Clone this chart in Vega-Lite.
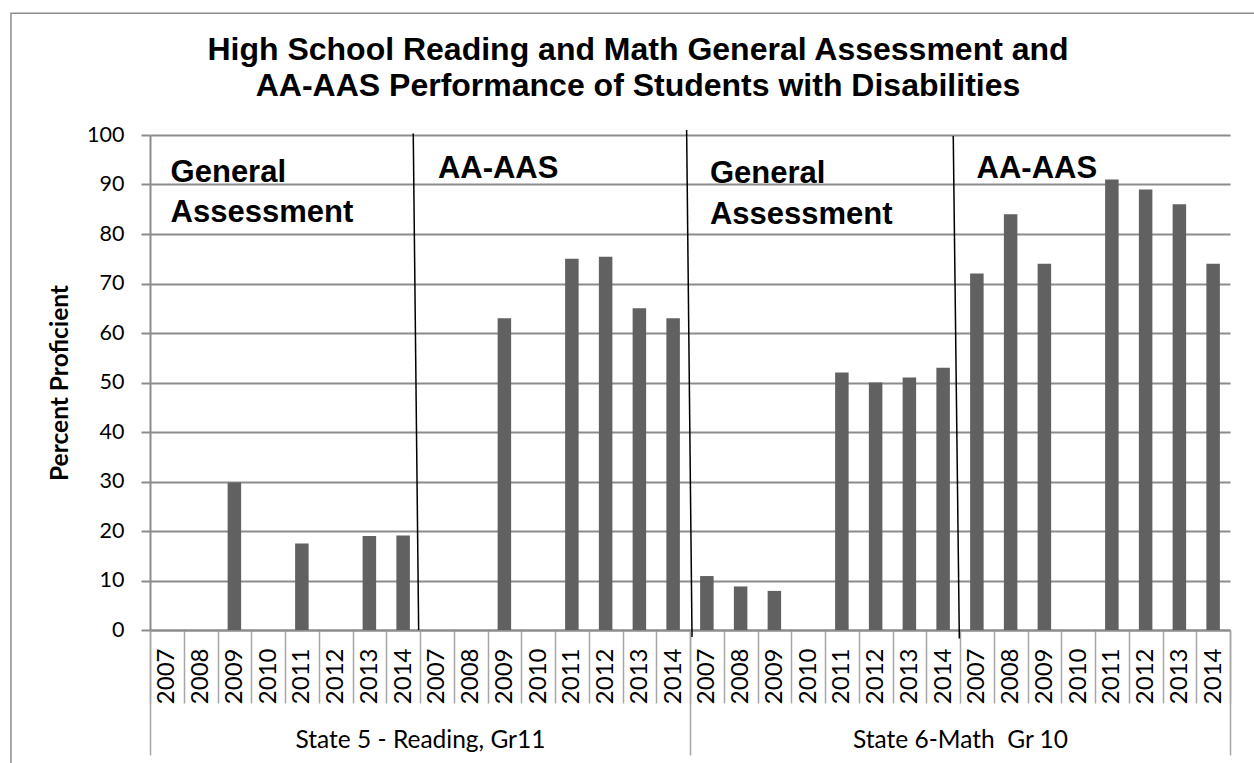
{
  "$schema": "https://vega.github.io/schema/vega-lite/v6.json",
  "width": 1080,
  "height": 495,
  "autosize": {"type": "none"},
  "padding": {"left": 150, "top": 135, "right": 24, "bottom": 133},
  "background": "white",
  "title": {
    "text": ["High School Reading and Math General Assessment and", "AA-AAS Performance of Students with Disabilities"],
    "font": "Liberation Sans",
    "fontSize": 32,
    "fontWeight": "bold",
    "color": "#000000",
    "anchor": "middle",
    "lineHeight": 36,
    "offset": -91,
    "dx": -52
  },
  "datasets": {
    "scores": [
      {"cat": "RG2007", "v": null}, {"cat": "RG2008", "v": null}, {"cat": "RG2009", "v": 29.8}, {"cat": "RG2010", "v": null},
      {"cat": "RG2011", "v": 17.5}, {"cat": "RG2012", "v": null}, {"cat": "RG2013", "v": 19.0}, {"cat": "RG2014", "v": 19.1},
      {"cat": "RA2007", "v": null}, {"cat": "RA2008", "v": null}, {"cat": "RA2009", "v": 63}, {"cat": "RA2010", "v": null},
      {"cat": "RA2011", "v": 75}, {"cat": "RA2012", "v": 75.4}, {"cat": "RA2013", "v": 65}, {"cat": "RA2014", "v": 63},
      {"cat": "MG2007", "v": 10.9}, {"cat": "MG2008", "v": 8.8}, {"cat": "MG2009", "v": 7.9}, {"cat": "MG2010", "v": null},
      {"cat": "MG2011", "v": 52}, {"cat": "MG2012", "v": 50}, {"cat": "MG2013", "v": 51}, {"cat": "MG2014", "v": 53},
      {"cat": "MA2007", "v": 72}, {"cat": "MA2008", "v": 84}, {"cat": "MA2009", "v": 74}, {"cat": "MA2010", "v": null},
      {"cat": "MA2011", "v": 91}, {"cat": "MA2012", "v": 89}, {"cat": "MA2013", "v": 86}, {"cat": "MA2014", "v": 74}
    ],
    "states": [
      {"state": "State 5 - Reading, Gr11"},
      {"state": "State 6-Math\u00a0 Gr 10"}
    ],
    "dividers": [
      {"line": 1, "xi": 7.8, "v": 100.3}, {"line": 1, "xi": 7.96, "v": 0},
      {"line": 2, "xi": 15.9, "v": 101}, {"line": 2, "xi": 16.06, "v": -1.4},
      {"line": 3, "xi": 23.8, "v": 99.8}, {"line": 3, "xi": 23.98, "v": -1.7}
    ],
    "notes": [
      {"label": "General", "xi": 0.61, "v": 90.6},
      {"label": "Assessment", "xi": 0.61, "v": 82.5},
      {"label": "AA-AAS", "xi": 8.53, "v": 91.4},
      {"label": "General", "xi": 16.59, "v": 90.4},
      {"label": "Assessment", "xi": 16.59, "v": 82.0},
      {"label": "AA-AAS", "xi": 24.49, "v": 91.4}
    ],
    "frame": [{"x1": -4.12, "x2": 34, "v": 124.6, "v2": -40}]
  },
  "layer": [
    {
      "data": {"name": "scores"},
      "mark": {"type": "bar", "color": "#616161", "width": {"band": 0.4}},
      "encoding": {
        "x": {
          "field": "cat", "type": "nominal", "sort": null,
          "scale": {
            "domain": ["RG2007","RG2008","RG2009","RG2010","RG2011","RG2012","RG2013","RG2014",
                       "RA2007","RA2008","RA2009","RA2010","RA2011","RA2012","RA2013","RA2014",
                       "MG2007","MG2008","MG2009","MG2010","MG2011","MG2012","MG2013","MG2014",
                       "MA2007","MA2008","MA2009","MA2010","MA2011","MA2012","MA2013","MA2014"],
            "paddingInner": 0, "paddingOuter": 0
          },
          "axis": {
            "orient": "bottom", "title": null,
            "labelExpr": "datum.value ? substring(datum.value, 2) : ''",
            "labelAngle": -90, "labelAlign": "right", "labelBaseline": "middle",
            "labelFont": "Lato", "labelFontSize": 24, "labelColor": "#000000",
            "labelPadding": -55, "labelOverlap": false,
            "tickBand": "extent", "tickSize": 73, "tickColor": "#a6a6a6", "tickWidth": 1.5,
            "domainColor": "#8c8c8c", "domainWidth": 2, "grid": false
          }
        },
        "y": {
          "field": "v", "type": "quantitative",
          "scale": {"domain": [0, 100], "nice": false},
          "axis": {
            "title": "Percent Proficient",
            "values": [0, 10, 20, 30, 40, 50, 60, 70, 80, 90, 100],
            "grid": true, "gridColor": "#8c8c8c", "gridWidth": 2,
            "tickColor": "#8c8c8c", "tickSize": 9, "tickWidth": 2,
            "domainColor": "#8c8c8c", "domainWidth": 2,
            "labelFont": "Lato", "labelFontSize": 21.5, "labelColor": "#000000", "labelPadding": 17,
            "titleFont": "Lato", "titleFontSize": 24.5, "titleFontWeight": "bold", "titleColor": "#000000",
            "titlePadding": 14
          }
        }
      }
    },
    {
      "data": {"name": "states"},
      "mark": {"type": "rule", "opacity": 0},
      "encoding": {
        "x": {
          "field": "state", "type": "nominal", "sort": null,
          "scale": {"paddingInner": 0, "paddingOuter": 0},
          "axis": {
            "orient": "bottom", "title": null,
            "labelAngle": 0, "labelAlign": "center", "labelBaseline": "alphabetic",
            "labelFont": "Lato", "labelFontSize": 24.5, "labelColor": "#000000",
            "labelPadding": -8, "labelLimit": 0,
            "tickBand": "extent", "tickSize": 125, "tickColor": "#a6a6a6", "tickWidth": 1.5,
            "domain": false, "grid": false
          }
        }
      }
    },
    {
      "data": {"name": "dividers"},
      "mark": {"type": "line", "color": "#000000", "strokeWidth": 1.5},
      "encoding": {
        "x": {"field": "xi", "type": "quantitative", "scale": {"domain": [0, 32], "nice": false, "zero": false}, "axis": null},
        "y": {"field": "v", "type": "quantitative", "scale": {"domain": [0, 100], "nice": false}},
        "detail": {"field": "line", "type": "nominal"}
      }
    },
    {
      "data": {"name": "notes"},
      "mark": {"type": "text", "align": "left", "baseline": "alphabetic", "font": "Liberation Sans", "fontSize": 31, "fontWeight": "bold", "color": "#000000"},
      "encoding": {
        "x": {"field": "xi", "type": "quantitative", "scale": {"domain": [0, 32], "nice": false, "zero": false}, "axis": null},
        "y": {"field": "v", "type": "quantitative", "scale": {"domain": [0, 100], "nice": false}},
        "text": {"field": "label", "type": "nominal"}
      }
    },
    {
      "data": {"name": "frame"},
      "mark": {"type": "rect", "fill": null, "fillOpacity": 0, "stroke": "#8c8c8c", "strokeWidth": 1.5},
      "encoding": {
        "x": {"field": "x1", "type": "quantitative", "scale": {"domain": [0, 32], "nice": false, "zero": false}, "axis": null},
        "x2": {"field": "x2"},
        "y": {"field": "v", "type": "quantitative", "scale": {"domain": [0, 100], "nice": false}},
        "y2": {"field": "v2"}
      }
    }
  ],
  "resolve": {"scale": {"x": "independent"}, "axis": {"x": "independent"}},
  "config": {"view": {"stroke": null}}
}
